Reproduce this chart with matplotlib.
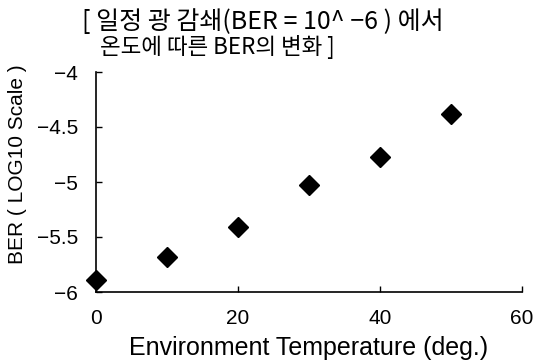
import matplotlib
matplotlib.use('Agg')
import matplotlib.pyplot as plt

# data
temps = [0, 10, 20, 30, 40, 50]
ber_log = [-5.89, -5.68, -5.41, -5.03, -4.77, -4.38]
xticks = [0, 20, 40, 60]
yticks = [-6, -5.5, -5, -4.5, -4]
ytick_labels = ['\u22126', '\u22125.5', '\u22125', '\u22124.5', '\u22124']

title_1 = '[ 일정 광 감쇄(BER = 10^ \u22126 ) 에서'
title_2 = '온도에 따른 BER의 변화 ]'

plt.rcParams['font.family'] = ['Liberation Sans', 'Noto Sans CJK KR', 'DejaVu Sans']

W, H = 533, 363
fig = plt.figure(figsize=(W / 100, H / 100), dpi=100)
ax = fig.add_axes([96 / W, 1 - 292 / H, (522 - 96) / W, (292 - 72) / H])

ax.plot(temps, ber_log, linestyle='none', marker='D', markersize=10.5,
        color='black', clip_on=False)

ax.set_xlim(0, 60)
ax.set_ylim(-6, -4)
ax.set_xticks(xticks)
ax.set_xticklabels([str(t) for t in xticks], fontsize=15)
ax.set_yticks(yticks)
ax.set_yticklabels(ytick_labels, fontsize=15)
ax.tick_params(axis='both', direction='in', length=4, width=1, color='black')
ax.tick_params(axis='x', pad=12)
ax.tick_params(axis='y', pad=13)

for side in ['top', 'right']:
    ax.spines[side].set_visible(False)
for side in ['left', 'bottom']:
    ax.spines[side].set_linewidth(1.2)

ax.set_xlabel('Environment Temperature (deg.)', fontsize=18, labelpad=6)
ax.set_ylabel('BER ( LOG10 Scale )', fontsize=15)
# ylabel anchor is the right edge of the rotated text
ax.yaxis.set_label_coords(-0.162, 0.58)

fig.text(82 / W, 1 - 22 / H, title_1, fontsize=18, ha='left', va='center',
         family=['Noto Sans CJK KR', 'DejaVu Sans'])
fig.text(100 / W, 1 - 47 / H, title_2, fontsize=16.2, ha='left', va='center',
         family=['Noto Sans CJK KR', 'DejaVu Sans'])

fig.savefig('out.png', dpi=100)
